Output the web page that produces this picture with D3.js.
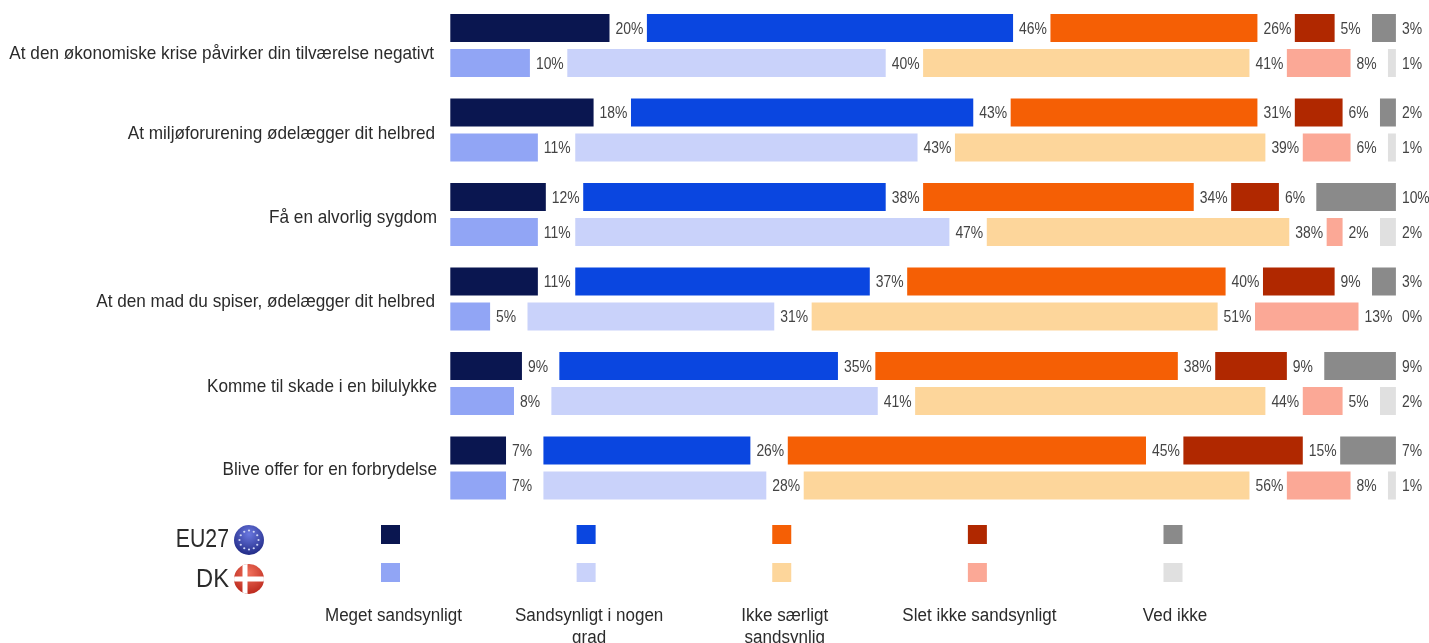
<!DOCTYPE html>
<html><head><meta charset="utf-8">
<script src="https://cdnjs.cloudflare.com/ajax/libs/d3/7.8.5/d3.min.js"></script>
<style>html,body{margin:0;padding:0;background:#fff;overflow:hidden}svg{display:block;filter:blur(.35px)}text{font-family:"Liberation Sans",Arial,sans-serif;fill:#2b2b2b}</style>
</head><body><svg id="c" width="1429" height="643"></svg>
<script>
const categories=["At den økonomiske krise påvirker din tilværelse negativt","At miljøforurening ødelægger dit helbred","Få en alvorlig sygdom","At den mad du spiser, ødelægger dit helbred","Komme til skade i en bilulykke","Blive offer for en forbrydelse"];
const responses=["Meget sandsynligt","Sandsynligt i nogen grad","Ikke særligt sandsynlig","Slet ikke sandsynligt","Ved ikke"];
const groups=["EU27","DK"];
const eu27=[[20,46,26,5,3],[18,43,31,6,2],[12,38,34,6,10],[11,37,40,9,3],[9,35,38,9,9],[7,26,45,15,7]];
const dk=[[10,40,41,8,1],[11,43,39,6,1],[11,47,38,2,2],[5,31,51,13,0],[8,41,44,5,2],[7,28,56,8,1]];
const euColors=["#0a1650","#0a46e0","#f55f05","#b02800","#8a8a8a"];
const dkColors=["#91a5f5","#c9d2fa","#fdd69b","#fba896","#e0e0e0"];

const svg=d3.select("#c");
const x=d3.scaleLinear().domain([0,100]).range([0,796]);
const left=450.3,gap=37.4;
const rowY=d3.scaleBand().domain(categories).range([6,513]);
const groupY=d3.scaleBand().domain(groups).range([8,71]).paddingInner(0.2);
const labelDx=[434,435,437,435,437,437], labelDy=[5,1,0,0,0,-1];

categories.forEach((c,i)=>{
  const g=svg.append("g").attr("transform",`translate(0,${rowY(c)})`);
  [[groups[0],eu27[i],euColors],[groups[1],dk[i],dkColors]].forEach(([gr,vals,cols])=>{
    let cum=0;
    vals.forEach((v,j)=>{
      const x0=left+x(cum)+gap*j;
      g.append("rect").attr("x",x0).attr("y",groupY(gr)).attr("width",x(v)).attr("height",groupY.bandwidth()).attr("fill",cols[j]);
      g.append("text").attr("transform",`translate(${x0+x(v)+6},${groupY(gr)+groupY.bandwidth()/2+5.5}) scale(0.87,1)`)
        .attr("font-size",16).style("fill","#444").text(v+"%");
      cum+=v;
    });
  });
  g.append("text").attr("transform",`translate(${labelDx[i]},${rowY.bandwidth()/2+5+labelDy[i]+0.5}) scale(0.955,1)`)
    .attr("text-anchor","end").attr("font-size",18).text(c);
});

// legend
const legX=d3.scalePoint().domain(responses).range([390.5,1173]);
const legLines=[["Meget sandsynligt"],["Sandsynligt i nogen","grad"],["Ikke særligt","sandsynlig"],["Slet ikke sandsynligt"],["Ved ikke"]];
const legNudge=[3,3,3,2,2];
responses.forEach((r,j)=>{
  svg.append("rect").attr("x",legX(r)-9.5).attr("y",525).attr("width",19).attr("height",19).attr("fill",euColors[j]);
  svg.append("rect").attr("x",legX(r)-9.5).attr("y",563).attr("width",19).attr("height",19).attr("fill",dkColors[j]);
  legLines[j].forEach((t,k)=>{
    svg.append("text").attr("transform",`translate(${legX(r)+legNudge[j]},${621+k*22}) scale(0.945,1)`)
      .attr("text-anchor","middle").attr("font-size",18).text(t);
  });
});

// group labels with flag discs
const defs=svg.append("defs");
const rg=(id,a,b)=>{const g=defs.append("radialGradient").attr("id",id).attr("cx","50%").attr("cy","30%").attr("r","75%");
  g.append("stop").attr("offset","0%").attr("stop-color",a);g.append("stop").attr("offset","100%").attr("stop-color",b);};
rg("eu","#6a78e0","#1c2580");rg("dkf","#f0705c","#b82418");
defs.append("clipPath").attr("id","dkclip").append("circle").attr("cx",249).attr("cy",579).attr("r",15);
svg.append("text").attr("transform","translate(229,547) scale(0.85,1)").attr("text-anchor","end").attr("font-size",25).text(groups[0]);
svg.append("text").attr("transform","translate(229,587) scale(0.95,1)").attr("text-anchor","end").attr("font-size",25).text(groups[1]);
svg.append("circle").attr("cx",249).attr("cy",540).attr("r",15).attr("fill","url(#eu)");
d3.range(12).forEach(k=>{const a=k/12*2*Math.PI;
  svg.append("circle").attr("cx",249+9.5*Math.cos(a)).attr("cy",540+9.5*Math.sin(a)).attr("r",1.1).attr("fill","#cfd6f5");});
svg.append("circle").attr("cx",249).attr("cy",579).attr("r",15).attr("fill","url(#dkf)");
const f=svg.append("g").attr("clip-path","url(#dkclip)");
f.append("rect").attr("x",234).attr("y",576.5).attr("width",30).attr("height",5).attr("fill","#fff");
f.append("rect").attr("x",242.5).attr("y",564).attr("width",5).attr("height",30).attr("fill","#fff");
</script></body></html>
